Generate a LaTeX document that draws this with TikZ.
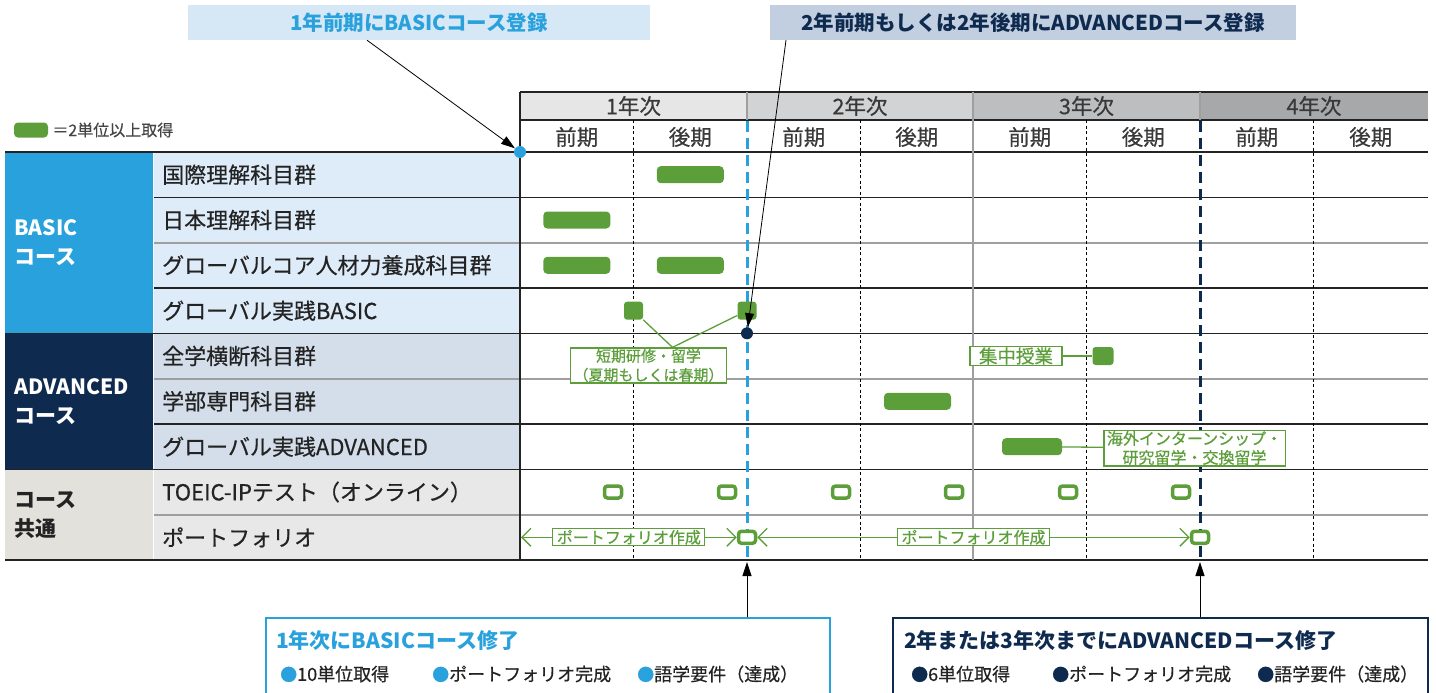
\documentclass[tikz,border=0pt]{standalone}
\usepackage{fontspec}
\setmainfont{Noto Sans CJK JP}[UprightFeatures={FakeBold=0.5}]
\usetikzlibrary{arrows.meta,positioning}
\definecolor{basicblue}{RGB}{41,161,220}
\definecolor{advnavy}{RGB}{14,42,78}
\definecolor{credit}{RGB}{92,158,58}
\definecolor{ink}{RGB}{35,35,35}
\definecolor{basiccell}{RGB}{222,235,248}
\definecolor{advcell}{RGB}{212,222,234}
\definecolor{commoncell}{RGB}{232,232,233}
\definecolor{commongroup}{RGB}{227,225,220}
\definecolor{calloutA}{RGB}{214,232,246}
\definecolor{calloutB}{RGB}{194,207,224}
\definecolor{yearA}{RGB}{230,230,231}
\definecolor{yearB}{RGB}{210,211,213}
\definecolor{yearC}{RGB}{189,190,192}
\definecolor{yearD}{RGB}{167,168,170}
\newcommand{\bul}[1]{\textcolor{#1}{\fontsize{17}{17}\selectfont ●}}
\begin{document}
\begin{tikzpicture}[x=1pt,y=-1pt]
	\tikzstyle{bar}=[rectangle,rounded corners=4pt,fill=credit,minimum width=67pt,minimum height=17pt,inner sep=0pt]
	\tikzstyle{block}=[rectangle,rounded corners=3pt,fill=credit,minimum width=19pt,minimum height=18pt,inner sep=0pt]
	\tikzstyle{test}=[rectangle,rounded corners=3pt,draw=credit,line width=3.5pt,fill=white,minimum width=17pt,minimum height=12pt,inner sep=0pt]
	\tikzstyle{dot}=[circle,minimum size=12pt,inner sep=0pt]
	\tikzstyle{note}=[rectangle,draw=credit,line width=1.2pt,fill=white,text=credit,font=\fontsize{16}{19}\selectfont,align=center,inner xsep=3pt,inner ysep=1pt]
	\tikzstyle{link}=[draw=credit,line width=1.3pt]
	\tikzstyle{span}=[link,{Straight Barb[length=9pt,width=18pt]}-{Straight Barb[length=9pt,width=18pt]}]
	\tikzstyle{pointer}=[draw=black,line width=0.8pt,-{Triangle[length=14pt,width=9pt]}]
	\tikzstyle{rowlabel}=[anchor=west,text=ink,font=\fontsize{22}{26}\selectfont,inner sep=0pt]
	\tikzstyle{grouplabel}=[anchor=west,align=left,font=\bfseries\fontsize{21}{29}\selectfont,inner sep=0pt]
	\tikzstyle{head}=[text=ink!90,font=\fontsize{21.5}{25}\selectfont,inner sep=0pt]
	\tikzstyle{callout}=[rectangle,minimum width=462pt,minimum height=35pt,font=\bfseries\fontsize{20.5}{24}\selectfont]
	\tikzstyle{finish}=[rectangle,line width=2pt,fill=white,minimum height=90pt]
	\tikzstyle{title}=[anchor=west,font=\bfseries\fontsize{21}{25}\selectfont,inner sep=0pt]
	\tikzstyle{item}=[anchor=west,text=ink,font=\fontsize{18}{22}\selectfont,inner sep=0pt]
	\tikzstyle{rule}=[ink,line width=1.6pt]
	\tikzstyle{soft}=[gray!75,line width=1.6pt]
	\tikzstyle{half}=[black,line width=0.7pt,dash pattern=on 3pt off 2.5pt]
	\tikzstyle{limit}=[line width=3pt,dash pattern=on 11pt off 6pt]

	\useasboundingbox (0,0) rectangle (1436,693);
	\clip (0,0) rectangle (1436,693);

	% header and cell fills
	\fill[yearA] (520,92) rectangle (747,120);
	\fill[yearB] (747,92) rectangle (973,120);
	\fill[yearC] (973,92) rectangle (1200,120);
	\fill[yearD] (1200,92) rectangle (1428,120);
	\fill[basicblue] (5,152) rectangle (153,333.3);
	\fill[advnavy] (5,333.3) rectangle (153,469.3);
	\fill[commongroup] (5,469.3) rectangle (153,560);
	\fill[basiccell] (154,152) rectangle (520,333.3);
	\fill[advcell] (154,333.3) rectangle (520,469.3);
	\fill[commoncell] (154,469.3) rectangle (520,560);

	\node[head] (Y1) at (633.5,106) {1年次};
	\node[head] (Y2) at (860,106) {2年次};
	\node[head] (Y3) at (1086.5,106) {3年次};
	\node[head] (Y4) at (1314,106) {4年次};
	\node[head] (H1) at (576.8,137) {前期};
	\node[head] (H2) at (690.3,137) {後期};
	\node[head] (H3) at (803.8,137) {前期};
	\node[head] (H4) at (916.8,137) {後期};
	\node[head] (H5) at (1029.8,137) {前期};
	\node[head] (H6) at (1143.3,137) {後期};
	\node[head] (H7) at (1256.8,137) {前期};
	\node[head] (H8) at (1370.8,137) {後期};

	\node[grouplabel,text=white] (G1) at (14,242.7) {BASIC\\コース};
	\node[grouplabel,text=white] (G2) at (14,401.3) {ADVANCED\\コース};
	\node[grouplabel,text=ink] (G3) at (14,514.7) {コース\\共通};

	\node[rowlabel] (R1) at (162,174.7) {国際理解科目群};
	\node[rowlabel] (R2) at (162,220) {日本理解科目群};
	\node[rowlabel] (R3) at (162,265.3) {グローバルコア人材力養成科目群};
	\node[rowlabel] (R4) at (162,310.7) {グローバル実践BASIC};
	\node[rowlabel] (R5) at (162,356) {全学横断科目群};
	\node[rowlabel] (R6) at (162,401.3) {学部専門科目群};
	\node[rowlabel] (R7) at (162,446.7) {グローバル実践ADVANCED};
	\node[rowlabel] (R8) at (162,492) {TOEIC-IPテスト（オンライン）};
	\node[rowlabel] (R9) at (162,537.3) {ポートフォリオ};

	% grid
	\draw[rule] (520,92) -- (1428,92);
	\draw[rule] (520,120) -- (1428,120);
	\draw[rule] (5,152) -- (1428,152);
	\draw[rule] (154,197.3) -- (1428,197.3);
	\draw[soft] (154,242.7) -- (1428,242.7);
	\draw[rule] (154,288) -- (1428,288);
	\draw[rule] (5,333.3) -- (1428,333.3);
	\draw[soft] (154,378.7) -- (1428,378.7);
	\draw[rule] (154,424) -- (1428,424);
	\draw[rule] (5,469.3) -- (1428,469.3);
	\draw[soft] (154,514.7) -- (1428,514.7);
	\draw[rule] (5,560) -- (1428,560);
	\draw[rule] (520,92) -- (520,560);
	\draw[soft] (747,92) -- (747,120);
	\draw[soft] (973,92) -- (973,560);
	\draw[soft] (1200,92) -- (1200,120);
	\draw[half] (633.5,120) -- (633.5,560);
	\draw[half] (860.5,120) -- (860.5,560);
	\draw[half] (1086.5,120) -- (1086.5,560);
	\draw[half] (1313.5,120) -- (1313.5,560);

	\coordinate (basicend) at (747,562);
	\coordinate (advend) at (1200,562);
	\draw[limit,basicblue] (747,121) -- (basicend);
	\draw[limit,advnavy] (1200,121) -- (advend);

	% credits
	\node[bar,minimum width=34pt,minimum height=15pt] (L1) at (31,130) {};
	\node[anchor=west,text=ink!85,font=\fontsize{16}{19}\selectfont,inner sep=0pt,right=4pt of L1] (L2) {＝2単位以上取得};

	\node[bar] (B1) at (690.3,174.7) {};
	\node[bar] (B2) at (576.8,220) {};
	\node[bar] (B3) at (576.8,265.3) {};
	\node[bar] (B4) at (690.3,265.3) {};
	\node[block] (S1) at (633.5,310.7) {};
	\node[block] (S2) at (747,310.7) {};
	\node[block,minimum width=21pt] (S3) at (1103,356) {};
	\node[bar] (B5) at (917.5,401.3) {};
	\node[bar,minimum width=60pt] (B6) at (1032,446.7) {};

	\node[note,font=\fontsize{15}{19}\selectfont] (N1) at (648.5,365.5) {短期研修・留学\\（夏期もしくは春期）};
	\draw[link] (S1) -- ([xshift=24pt]N1.north) -- (S2);
	\node[note,font=\fontsize{18.5}{22}\selectfont,inner xsep=9pt] (N2) at (1016,356) {集中授業};
	\draw[link] (N2) -- (S3);
	\node[note] (N3) at (1194.5,448) {海外インターンシップ・\\研究留学・交換留学};
	\draw[link] (B6) -- (N3);

	\node[test] (T1) at (613,492) {};
	\node[test] (T2) at (727,492) {};
	\node[test] (T3) at (841,492) {};
	\node[test] (T4) at (954,492) {};
	\node[test] (T5) at (1068,492) {};
	\node[test] (T6) at (1181,492) {};

	\coordinate (P0) at (521,537.3);
	\node[test] (P1) at (747,537.3) {};
	\node[test] (P2) at (1200,537.3) {};
	\draw[span] (P0) -- (P1) node[note,midway,inner xsep=4pt] (N4) {ポートフォリオ作成};
	\draw[span] (P1) -- (P2) node[note,midway,inner xsep=4pt] (N5) {ポートフォリオ作成};

	% entry points
	\node[dot,fill=basicblue] (D1) at (520,152) {};
	\node[dot,fill=advnavy] (D2) at (747,333.3) {};
	\node[callout,fill=calloutA,text=basicblue] (C1) at (419,22.5) {1年前期にBASICコース登録};
	\node[callout,fill=calloutB,text=advnavy,minimum width=526pt] (C2) at (1033,22.5) {2年前期もしくは2年後期にADVANCEDコース登録};
	\draw[pointer] ([xshift=-52pt]C1.south) -- (D1);
	\draw[pointer] ([xshift=-247pt]C2.south) -- (D2);

	% completion
	\node[finish,draw=basicblue,minimum width=564pt] (F1) at (548,663) {};
	\node[title,text=basicblue] (F1T) at (276,640) {1年次にBASICコース修了};
	\node[item] (F1a) at (280,674) {\bul{basicblue}10単位取得};
	\node[item] (F1b) at (432,674) {\bul{basicblue}ポートフォリオ完成};
	\node[item] (F1c) at (637,674) {\bul{basicblue}語学要件（達成）};
	\draw[pointer] (F1.north -| basicend) -- (basicend);

	\node[finish,draw=advnavy,minimum width=535pt] (F2) at (1160.5,663) {};
	\node[title,text=advnavy] (F2T) at (904,640) {2年または3年次までにADVANCEDコース修了};
	\node[item] (F2a) at (911,674) {\bul{advnavy}6単位取得};
	\node[item] (F2b) at (1052,674) {\bul{advnavy}ポートフォリオ完成};
	\node[item] (F2c) at (1257,674) {\bul{advnavy}語学要件（達成）};
	\draw[pointer] (F2.north -| advend) -- (advend);
\end{tikzpicture}
\end{document}
